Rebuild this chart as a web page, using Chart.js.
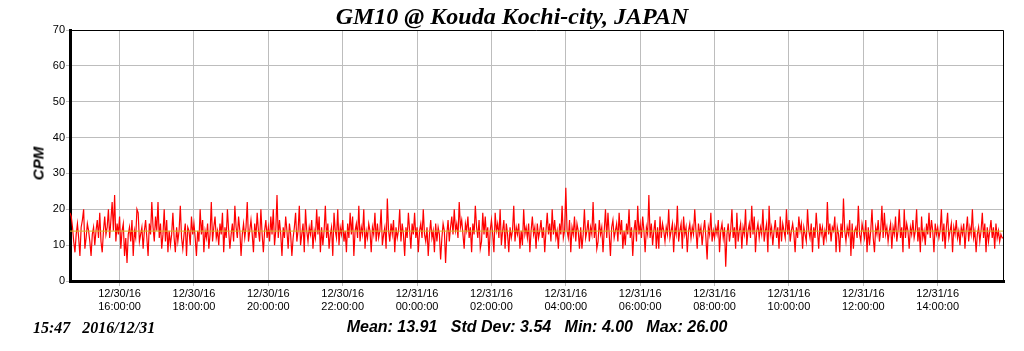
<!DOCTYPE html>
<html>
<head>
<meta charset="utf-8">
<script src="https://cdn.jsdelivr.net/npm/chart.js@4"></script>
<style>
  body { margin: 0; background: #fff; }
  #wrap { position: relative; width: 1024px; height: 351px; }
  #title { position: absolute; left: 0; width: 1024px; top: 3px; text-align: center;
    font: italic bold 24px "Liberation Serif", serif; color: #000; }
  #ylabel { position: absolute; left: 8px; top: 155px; width: 60px; text-align: center;
    transform: rotate(-90deg); font: italic bold 15px "Liberation Sans", Arial, sans-serif; color: #000; }
  #stamp { position: absolute; left: 33px; top: 319px;
    font: italic bold 16px "Liberation Serif", serif; color: #000; white-space: pre; }
  #stats { position: absolute; left: 0; width: 1074px; top: 318px; text-align: center;
    font: italic bold 16px "Liberation Sans", Arial, sans-serif; color: #000; white-space: pre; }
</style>
</head>
<body>
<div id="wrap">
  <canvas id="chart" width="1024" height="351"></canvas>
  <div id="title">GM10 @ Kouda Kochi-city, JAPAN</div>
  <div id="ylabel">CPM</div>
  <div id="stamp">15:47   2016/12/31</div>
  <div id="stats">Mean: 13.91   Std Dev: 3.54   Min: 4.00   Max: 26.00</div>
</div>
<script>
// counts per minute, one reading every 2 minutes from 12/30 14:40
var startMinute = 880;
var stepMinutes = 2;
var endMinute = 2387;
var meanCpm = 13.91;

var cpm = [
  19, 18, 15, 11, 8, 13, 16, 12, 7, 15, 17, 20, 9, 12, 16, 14, 11, 7, 13, 15,
  10, 14, 17, 12, 19, 11, 8, 14, 18, 13, 15, 20, 12, 17, 22, 14, 24, 11, 16, 13,
  18, 9, 14, 16, 7, 12, 5, 13, 15, 11, 17, 7, 14, 12, 20, 19, 11, 13, 15, 9,
  14, 17, 12, 7, 16, 13, 22, 15, 11, 18, 14, 22, 12, 16, 9, 13, 20, 11, 17, 8,
  14, 10, 13, 19, 12, 8, 15, 11, 14, 21, 12, 9, 13, 16, 7, 15, 14, 10, 18, 13,
  16, 12, 7, 14, 11, 20, 13, 17, 8, 14, 12, 16, 9, 13, 22, 11, 15, 18, 12, 14,
  10, 16, 13, 19, 8, 15, 12, 20, 14, 9, 13, 16, 11, 21, 15, 12, 18, 14, 7, 13,
  16, 12, 15, 22, 11, 14, 17, 13, 8, 16, 12, 19, 14, 11, 20, 13, 8, 14, 17, 12,
  15, 11, 18, 13, 20, 10, 14, 24, 12, 17, 13, 7, 15, 12, 18, 14, 9, 16, 13, 7,
  12, 15, 19, 11, 14, 21, 10, 13, 16, 8, 20, 14, 11, 15, 13, 17, 9, 14, 12, 20,
  13, 18, 8, 15, 10, 14, 21, 12, 16, 9, 13, 15, 7, 19, 14, 12, 20, 10, 15, 13,
  17, 11, 14, 8, 16, 12, 19, 13, 18, 7, 14, 16, 12, 21, 11, 15, 13, 20, 9, 14,
  12, 16, 14, 8, 15, 13, 19, 11, 16, 12, 14, 20, 10, 13, 15, 9, 23, 14, 11, 16,
  13, 17, 8, 15, 12, 14, 20, 11, 16, 13, 7, 15, 12, 19, 14, 9, 16, 13, 19, 12,
  15, 8, 14, 16, 12, 20, 13, 11, 15, 7, 13, 17, 12, 14, 8, 16, 11, 15, 13, 6,
  12, 16, 14, 5, 13, 17, 11, 15, 18, 13, 20, 14, 16, 12, 22, 15, 17, 13, 9, 16,
  14, 18, 12, 15, 8, 16, 13, 21, 15, 12, 17, 9, 11, 19, 13, 18, 12, 15, 7, 14,
  17, 13, 8, 19, 14, 16, 12, 20, 10, 14, 17, 9, 16, 13, 8, 15, 12, 14, 21, 11,
  15, 13, 16, 9, 14, 10, 20, 13, 15, 12, 16, 8, 14, 18, 13, 15, 9, 16, 12, 14,
  17, 12, 15, 8, 14, 19, 13, 16, 11, 20, 13, 17, 12, 14, 9, 16, 13, 21, 12, 14,
  26, 14, 12, 17, 8, 15, 13, 18, 11, 16, 14, 9, 15, 9, 13, 20, 12, 14, 17, 11,
  15, 13, 22, 12, 16, 9, 11, 17, 13, 15, 8, 14, 20, 12, 19, 13, 7, 15, 17, 12,
  14, 16, 11, 19, 13, 17, 9, 14, 10, 16, 13, 20, 12, 15, 7, 14, 17, 11, 21, 13,
  16, 12, 18, 14, 8, 15, 13, 24, 12, 16, 10, 14, 17, 9, 15, 9, 18, 12, 16, 14,
  11, 15, 13, 20, 12, 14, 16, 8, 15, 13, 21, 11, 14, 16, 9, 18, 13, 15, 8, 14,
  16, 12, 15, 13, 20, 14, 9, 16, 13, 15, 10, 14, 17, 12, 6, 15, 13, 19, 11, 14,
  12, 15, 13, 17, 8, 14, 16, 12, 15, 4, 13, 16, 11, 14, 20, 12, 15, 9, 19, 11,
  14, 16, 9, 15, 13, 20, 10, 14, 16, 12, 21, 13, 18, 8, 14, 16, 12, 15, 13, 20,
  11, 14, 16, 8, 21, 13, 15, 10, 14, 17, 12, 15, 9, 18, 11, 16, 14, 12, 20, 13,
  17, 11, 14, 16, 13, 8, 15, 12, 18, 14, 16, 9, 15, 13, 11, 20, 14, 12, 16, 8,
  15, 12, 19, 14, 9, 16, 13, 15, 10, 14, 12, 22, 13, 16, 11, 15, 14, 18, 8, 15,
  13, 8, 16, 12, 23, 14, 11, 15, 13, 17, 7, 16, 9, 14, 15, 12, 21, 13, 11, 16,
  14, 12, 17, 8, 15, 10, 14, 20, 12, 8, 15, 13, 17, 11, 14, 21, 12, 19, 13, 15,
  11, 14, 16, 9, 15, 13, 18, 11, 14, 20, 12, 15, 8, 20, 12, 16, 14, 9, 15, 13,
  17, 12, 14, 20, 11, 15, 8, 18, 12, 14, 10, 16, 13, 19, 12, 17, 14, 8, 16, 13,
  15, 12, 14, 20, 11, 16, 9, 15, 19, 12, 14, 16, 8, 15, 13, 17, 12, 14, 10, 15,
  13, 16, 9, 14, 18, 11, 15, 13, 20, 12, 14, 8, 13, 15, 11, 14, 19, 12, 16, 8,
  15, 11, 14, 17, 12, 15, 9, 16, 12, 14, 11, 13, 12, 12
];

// x tick positions (minutes since 12/30 00:00) and their two-line labels
var tickMinutes = [960, 1080, 1200, 1320, 1440, 1560, 1680, 1800, 1920, 2040, 2160, 2280];
var tickDates = ['12/30/16', '12/30/16', '12/30/16', '12/30/16', '12/31/16', '12/31/16',
                 '12/31/16', '12/31/16', '12/31/16', '12/31/16', '12/31/16', '12/31/16'];
var tickTimes = ['16:00:00', '18:00:00', '20:00:00', '22:00:00', '00:00:00', '02:00:00',
                 '04:00:00', '06:00:00', '08:00:00', '10:00:00', '12:00:00', '14:00:00'];

var points = cpm.map(function (v, i) {
    return { x: startMinute + i * stepMinutes, y: v };
});

var frame = {
    id: 'frame',
    afterDraw: function (chart) {
        var a = chart.chartArea, c = chart.ctx;
        c.save();
        c.strokeStyle = '#000';
        c.lineWidth = 1;
        c.beginPath();
        c.moveTo(a.left, a.top + 0.5);
        c.lineTo(a.right - 0.5, a.top + 0.5);
        c.lineTo(a.right - 0.5, a.bottom);
        c.stroke();
        c.restore();
    }
};

var ctx = document.getElementById('chart');
new Chart(ctx, {
    type: 'line',
    data: {
        datasets: [{
            label: 'Mean',
            data: [{ x: startMinute, y: meanCpm }, { x: endMinute, y: meanCpm }],
            borderColor: 'rgb(215,185,40)',
            borderWidth: 1,
            pointRadius: 0,
            order: 0
        }, {
            label: 'CPM',
            data: points,
            borderColor: '#ff0000',
            borderWidth: 1.2,
            pointRadius: 0,
            tension: 0,
            order: 1
        }]
    },
    options: {
        responsive: false,
        animation: false,
        layout: { padding: { top: 30, right: 20, bottom: 0, left: 0 } },
        plugins: { legend: { display: false }, tooltip: { enabled: false } },
        scales: {
            x: {
                type: 'linear',
                min: startMinute,
                max: endMinute,
                afterBuildTicks: function (scale) {
                    scale.ticks = tickMinutes.map(function (m) { return { value: m }; });
                },
                afterFit: function (scale) { scale.height = 70; },
                grid: { color: '#bdbdbd', tickColor: '#bdbdbd', tickLength: 5 },
                border: { color: '#000', width: 3 },
                ticks: {
                    maxRotation: 0,
                    autoSkip: false,
                    padding: 1,
                    color: '#000',
                    font: { family: '"Liberation Sans", Arial, sans-serif', size: 11 },
                    callback: function (value) {
                        var i = tickMinutes.indexOf(value);
                        return i < 0 ? '' : [tickDates[i], tickTimes[i]];
                    }
                }
            },
            y: {
                min: 0,
                max: 70,
                afterFit: function (scale) { scale.width = 70; },
                grid: { color: '#bdbdbd', tickColor: '#bdbdbd', tickLength: 4 },
                border: { color: '#000', width: 3 },
                ticks: {
                    stepSize: 10,
                    padding: 1,
                    color: '#000',
                    font: { family: '"Liberation Sans", Arial, sans-serif', size: 11 }
                }
            }
        }
    },
    plugins: [frame]
});
</script>
</body>
</html>
